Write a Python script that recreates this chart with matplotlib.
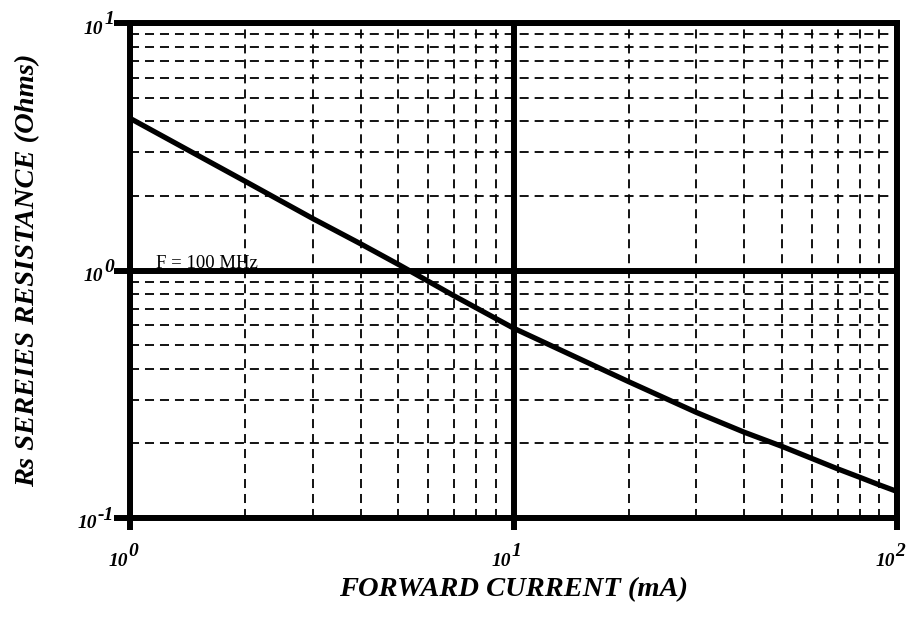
import math
import matplotlib
matplotlib.use("Agg")
import matplotlib.pyplot as plt
from matplotlib.ticker import LogLocator, FixedLocator, NullFormatter

# Data
current_mA = [1, 2, 3, 4, 5, 7, 10, 20, 30, 40, 50, 60, 70, 80, 90, 100]
rs_ohms = [4.12, 2.29, 1.62, 1.28, 1.06, 0.79, 0.585, 0.355, 0.267, 0.222,
           0.195, 0.174, 0.158, 0.146, 0.136, 0.128]
x_major = [1, 10, 100]
y_major = [0.1, 1, 10]
x_label = "FORWARD CURRENT (mA)"
y_label = "Rs SEREIES RESISTANCE (Ohms)"
annotation = "F = 100 MHz"

SERIF = 'Liberation Serif'

fig = plt.figure(figsize=(9.08, 6.21), dpi=100)
ax = fig.add_axes([130/908, 1 - 518/621, (897 - 130)/908, (518 - 23)/621])
ax.set_xscale('log')
ax.set_yscale('log')
ax.set_xlim(1, 100)
ax.set_ylim(0.1, 10)

ax.plot(current_mA, rs_ohms, color='black', lw=3.8, solid_capstyle='butt',
        solid_joinstyle='round', zorder=5)

# grid
ax.xaxis.set_major_locator(FixedLocator(x_major))
ax.yaxis.set_major_locator(FixedLocator(y_major))
ax.xaxis.set_minor_locator(LogLocator(base=10, subs=range(2, 10)))
ax.yaxis.set_minor_locator(LogLocator(base=10, subs=range(2, 10)))
ax.xaxis.set_major_formatter(NullFormatter())
ax.yaxis.set_major_formatter(NullFormatter())
ax.xaxis.set_minor_formatter(NullFormatter())
ax.yaxis.set_minor_formatter(NullFormatter())
ax.grid(which='minor', color='black', lw=1.3, linestyle=(0, (5, 3.3)), zorder=1)
ax.grid(which='major', color='black', lw=4.3, linestyle='-', zorder=2)

for s in ax.spines.values():
    s.set_linewidth(4.3)
    s.set_zorder(6)

ax.tick_params(axis='x', which='major', length=8.5, width=4.3, direction='out')
ax.tick_params(axis='y', which='major', length=11.5, width=4.3, direction='out')
ax.tick_params(which='minor', length=0)
for t in ax.xaxis.get_major_ticks() + ax.yaxis.get_major_ticks():
    t.tick1line.set_solid_capstyle('round')

lab_kw = dict(fontsize=14, family=SERIF, style='italic', weight='bold')

# x tick labels: "10" + raised exponent
for v in x_major:
    e = int(round(math.log10(v)))
    base = ax.annotate("10", xy=(v, 0), xycoords=('data', 'axes fraction'),
                       xytext=(-2, -43), textcoords='offset pixels',
                       ha='right', va='center', annotation_clip=False, **lab_kw)
    ax.annotate(str(e), xy=(1, 0.5), xycoords=base, xytext=(0, 10),
                textcoords='offset pixels', ha='left', va='center',
                annotation_clip=False, **lab_kw)

# y tick labels
for v in y_major:
    e = int(round(math.log10(v)))
    ex = ax.annotate(str(e), xy=(0, v), xycoords=('axes fraction', 'data'),
                     xytext=(-16, 3), textcoords='offset pixels',
                     ha='right', va='center', annotation_clip=False, **lab_kw)
    ax.annotate("10", xy=(0, 0.5), xycoords=ex, xytext=(-1, -9),
                textcoords='offset pixels', ha='right', va='center',
                annotation_clip=False, **lab_kw)

ax.text(1.169, 1.028, annotation, fontsize=13.5, family=SERIF,
        ha='left', va='baseline')

fig.text(514/908, 1 - 590/621, x_label, fontsize=20.5, family=SERIF,
         style='italic', weight='bold', ha='center', va='center')
fig.text(28/908, 1 - 270/621, y_label, fontsize=20.5, family=SERIF,
         style='italic', weight='bold', ha='center', va='center', rotation=90)

fig.savefig('out.png', dpi=100)
